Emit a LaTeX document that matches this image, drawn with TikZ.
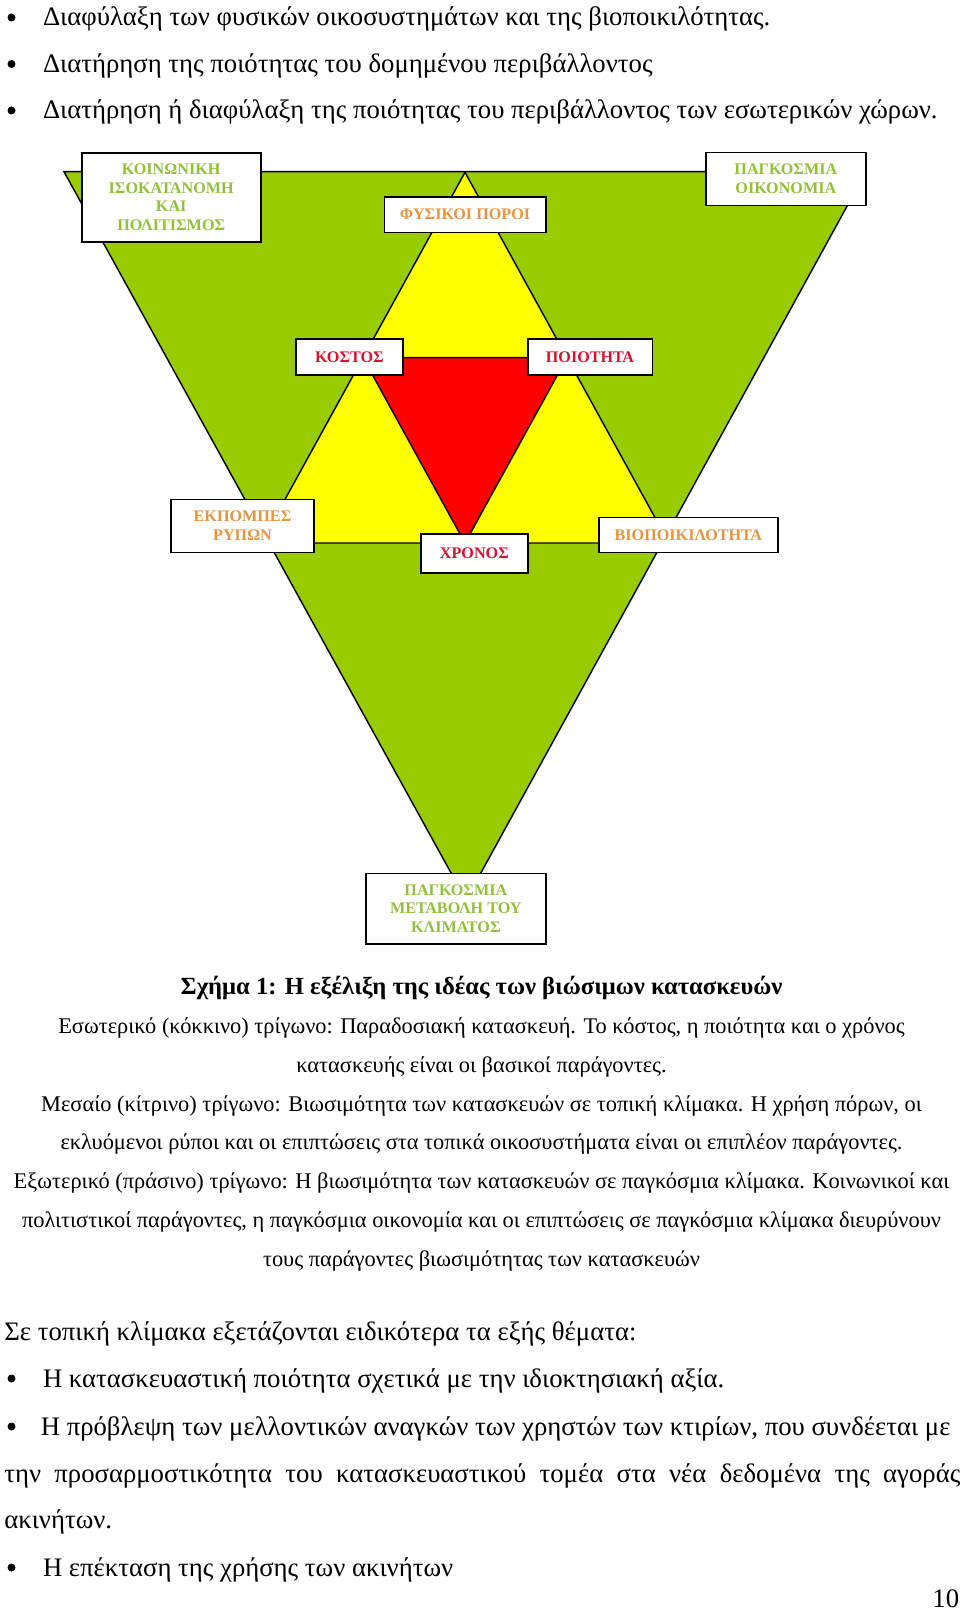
\documentclass[tikz,border=0pt]{standalone}
\usepackage{fontspec}
\setmainfont{Liberation Serif}
\definecolor{tgreen}{RGB}{153,204,0}
\definecolor{tyellow}{RGB}{255,255,0}
\definecolor{tred}{RGB}{255,0,0}
\definecolor{lgreen}{RGB}{146,192,58}
\definecolor{lorange}{RGB}{232,148,62}
\definecolor{lred}{RGB}{214,18,48}
\begin{document}
\begin{tikzpicture}[x=0.625pt,y=-0.625pt,
  tri/.style={draw=black,line width=0.9pt,line join=miter},
  lbox/.style={draw=black,fill=white,line width=1pt,inner sep=0pt,align=center,
    font=\fontsize{10.1}{11.6}\selectfont\bfseries},
  body/.style={anchor=base west,inner sep=0pt,font=\fontsize{16.7}{19}\selectfont},
  capline/.style={anchor=base,inner sep=0pt,font=\fontsize{14}{16}\selectfont},
  bul/.style={fill=black}]
\fill[white] (0,0) rectangle (960,1610);
\useasboundingbox (0,0) rectangle (960,1610);

% top bullets
\fill[bul] (11.5,17.5) circle (4);
\fill[bul] (11.5,64) circle (4);
\fill[bul] (11.5,110.5) circle (4);
\node[body] (t1) at (42.7,26) {Διαφύλαξη των φυσικών οικοσυστημάτων και της βιοποικιλότητας.};
\node[body] (t2) at (42.7,72.5) {Διατήρηση της ποιότητας του δομημένου περιβάλλοντος};
\node[body] (t3) at (42.7,119) {Διατήρηση ή διαφύλαξη της ποιότητας του περιβάλλοντος των εσωτερικών χώρων.};

% triangles
\coordinate (g1) at (64,171.7);
\coordinate (g2) at (866,171.7);
\coordinate (g3) at (466,900);
\coordinate (y1) at (465,172.3);
\coordinate (y2) at (261,543);
\coordinate (y3) at (669,543);
\coordinate (r1) at (363,357.7);
\coordinate (r2) at (567,357.7);
\coordinate (r3) at (465,543);
\draw[tri,fill=tgreen] (g1) -- (g2) -- (g3) -- cycle;
\draw[tri,fill=tyellow] (y1) -- (y3) -- (y2) -- cycle;
\draw[tri,fill=tred] (r1) -- (r2) -- (r3) -- cycle;

% label boxes
\node[lbox,text=lgreen,minimum width=179*0.625pt,minimum height=89*0.625pt] (koin) at (171.2,197.2)
  {ΚΟΙΝΩΝΙΚΗ\\ΙΣΟΚΑΤΑΝΟΜΗ\\ΚΑΙ\\ΠΟΛΙΤΙΣΜΟΣ};
\node[lbox,text=lorange,minimum width=161.4*0.625pt,minimum height=35.6*0.625pt] (fys) at (465,214.5)
  {ΦΥΣΙΚΟΙ ΠΟΡΟΙ};
\node[lbox,text=lgreen,minimum width=159.7*0.625pt,minimum height=53*0.625pt] (pagk) at (785.85,178.8)
  {ΠΑΓΚΟΣΜΙΑ\\ΟΙΚΟΝΟΜΙΑ};
\node[lbox,text=lred,minimum width=107.3*0.625pt,minimum height=36*0.625pt] (kost) at (349.35,357)
  {ΚΟΣΤΟΣ};
\node[lbox,text=lred,minimum width=124.6*0.625pt,minimum height=36*0.625pt] (poio) at (590,357)
  {ΠΟΙΟΤΗΤΑ};
\node[lbox,text=lorange,minimum width=143*0.625pt,minimum height=53*0.625pt] (ekp) at (242.5,525.8)
  {ΕΚΠΟΜΠΕΣ\\ΡΥΠΩΝ};
\node[lbox,text=lred,minimum width=106.7*0.625pt,minimum height=38.7*0.625pt] (xron) at (474.35,553.35)
  {ΧΡΟΝΟΣ};
\node[lbox,text=lorange,minimum width=178.7*0.625pt,minimum height=35*0.625pt] (bio) at (688.35,534.8)
  {ΒΙΟΠΟΙΚΙΛΟΤΗΤΑ};
\node[lbox,text=lgreen,minimum width=179.7*0.625pt,minimum height=70.7*0.625pt] (bott) at (455.85,908.65)
  {ΠΑΓΚΟΣΜΙΑ\\ΜΕΤΑΒΟΛΗ ΤΟΥ\\ΚΛΙΜΑΤΟΣ};

% caption
\node[capline,font=\fontsize{15.4}{18}\selectfont\bfseries] (c0) at (481.5,994.5) {Σχήμα 1: Η εξέλιξη της ιδέας των βιώσιμων κατασκευών};
\node[capline] (c1) at (481.5,1033.5) {Εσωτερικό (κόκκινο) τρίγωνο: Παραδοσιακή κατασκευή. Το κόστος, η ποιότητα και ο χρόνος};
\node[capline] (c2) at (481.5,1072.5) {κατασκευής είναι οι βασικοί παράγοντες.};
\node[capline] (c3) at (481.5,1111.5) {Μεσαίο (κίτρινο) τρίγωνο: Βιωσιμότητα των κατασκευών σε τοπική κλίμακα. Η χρήση πόρων, οι};
\node[capline] (c4) at (481.5,1149.5) {εκλυόμενοι ρύποι και οι επιπτώσεις στα τοπικά οικοσυστήματα είναι οι επιπλέον παράγοντες.};
\node[capline] (c5) at (481.5,1188.5) {Εξωτερικό (πράσινο) τρίγωνο: Η βιωσιμότητα των κατασκευών σε παγκόσμια κλίμακα. Κοινωνικοί και};
\node[capline] (c6) at (481.5,1227.5) {πολιτιστικοί παράγοντες, η παγκόσμια οικονομία και οι επιπτώσεις σε παγκόσμια κλίμακα διευρύνουν};
\node[capline] (c7) at (481.5,1266.5) {τους παράγοντες βιωσιμότητας των κατασκευών};

% lower text
\node[body] (p1) at (4,1340) {Σε τοπική κλίμακα εξετάζονται ειδικότερα τα εξής θέματα:};
\fill[bul] (11.5,1378.5) circle (4);
\node[body] (b1) at (42.7,1387) {Η κατασκευαστική ποιότητα σχετικά με την ιδιοκτησιακή αξία.};
\fill[bul] (11.5,1426.5) circle (4);
\node[body] (b2) at (40.5,1435) {Η πρόβλεψη των μελλοντικών αναγκών των χρηστών των κτιρίων, που συνδέεται με};
\node[body] (b2b) at (4,1482) {\makebox[597.5pt][s]{την προσαρμοστικότητα του κατασκευαστικού τομέα στα νέα δεδομένα της αγοράς}};
\node[body] (b2c) at (4,1528) {ακινήτων.};
\fill[bul] (11.5,1567.5) circle (4);
\node[body] (b3) at (42.7,1576) {Η επέκταση της χρήσης των ακινήτων};
\node[body,anchor=base east] (pg) at (959.5,1607) {10};
\end{tikzpicture}
\end{document}
